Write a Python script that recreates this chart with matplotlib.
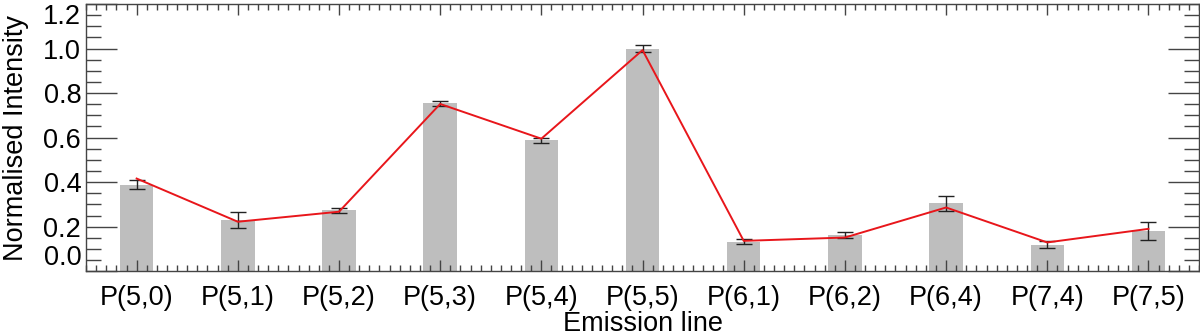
import numpy as np
import matplotlib
matplotlib.use("Agg")
from matplotlib import pyplot as plt
from matplotlib.ticker import MultipleLocator

plt.rcParams['font.family'] = ['Liberation Sans', 'DejaVu Sans']

#%% Data

lines = ['P(5,0)', 'P(5,1)', 'P(5,2)', 'P(5,3)', 'P(5,4)', 'P(5,5)',
         'P(6,1)', 'P(6,2)', 'P(6,4)', 'P(7,4)', 'P(7,5)']
observed = [0.388, 0.230, 0.274, 0.754, 0.588, 1.000, 0.132, 0.161, 0.304, 0.119, 0.180]
err_lo = [0.367, 0.196, 0.262, 0.743, 0.577, 0.984, 0.120, 0.148, 0.270, 0.102, 0.142]
err_hi = [0.409, 0.264, 0.285, 0.765, 0.599, 1.014, 0.144, 0.174, 0.338, 0.136, 0.219]
model = [0.416, 0.222, 0.267, 0.751, 0.595, 0.993, 0.136, 0.151, 0.286, 0.129, 0.190]
yticks = [0.0, 0.2, 0.4, 0.6, 0.8, 1.0, 1.2]

#%% Plot

x = np.arange(len(lines))
obs = np.array(observed)
yerr = [obs - np.array(err_lo), np.array(err_hi) - obs]

fig = plt.figure(figsize=(12, 3.36), dpi=100)
ax = fig.add_axes([0.0717, 0.193, 0.9275, 0.795])

ax.bar(x, obs, width=0.33, color='#bebebe', zorder=1)
ax.errorbar(x, obs, yerr=yerr, fmt='none', ecolor='#222222', elinewidth=1,
            capsize=5.5, capthick=1, zorder=3)
ax.plot(x, model, color='#e8161b', lw=1.4, zorder=4)

ax.set_xlim(-0.5, 10.5)
ax.set_ylim(0, 1.2)
ax.set_xticks(x)
ax.set_xticklabels(lines)
ax.xaxis.set_minor_locator(MultipleLocator(0.1))
ax.set_yticks(yticks)
ax.set_yticklabels([f"{v:.1f}" for v in yticks])
ax.yaxis.set_minor_locator(MultipleLocator(0.05))

ax.tick_params(axis='both', which='both', direction='in', top=True, right=True,
               color='#444444', labelsize=19.5)
ax.tick_params(axis='y', which='major', length=22, width=1)
ax.tick_params(axis='y', which='minor', length=11, width=1)
ax.tick_params(axis='x', which='major', length=8, width=1, pad=10)
ax.tick_params(axis='x', which='minor', length=4, width=1)
for s in ax.spines.values():
    s.set_color('#444444')
    s.set_linewidth(1)

# end labels sit inside the axis range, like the original
for t in ax.yaxis.get_major_ticks():
    if t.label1.get_text() == '0.0':
        t.label1.set_verticalalignment('bottom')
    elif t.label1.get_text() == '1.2':
        t.label1.set_verticalalignment('top')

ax.set_xlabel('Emission line', fontsize=19.5, labelpad=0)
ax.set_ylabel('Normalised Intensity', fontsize=19.5, labelpad=10)

fig.savefig('out.png', dpi=100)
